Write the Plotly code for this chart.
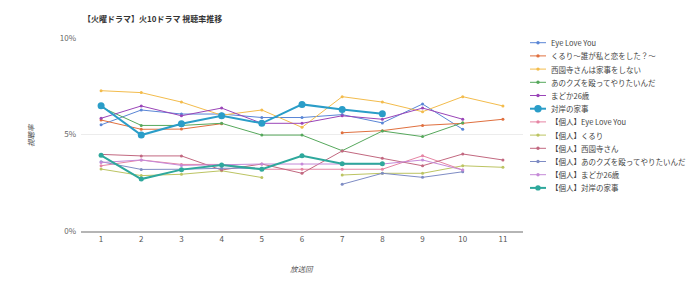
import plotly.graph_objects as go

episodes = list(range(1, 12))
tick_labels = [str(e) for e in episodes]

series_names = [
    "Eye Love You",
    "くるり〜誰が私と恋をした？〜",
    "西園寺さんは家事をしない",
    "あのクズを殴ってやりたいんだ",
    "まどか26歳",
    "対岸の家事",
    "【個人】Eye Love You",
    "【個人】くるり",
    "【個人】西園寺さん",
    "【個人】あのクズを殴ってやりたいんだ",
    "【個人】まどか26歳",
    "【個人】対岸の家事",
]

eye_love_you = [5.5, 6.27, 6.06, 6.06, 5.88, 5.88, 6.03, 5.6, 6.58, 5.27, None]
kururi = [5.75, 5.27, 5.28, 5.56, None, None, 5.09, 5.2, 5.47, 5.58, 5.79]
saionji = [7.27, 7.17, 6.68, 6.0, 6.27, 5.37, 6.96, 6.68, 6.18, 6.96, 6.48]
anokuzu = [6.42, 5.47, 5.47, 5.58, 4.97, 4.97, 4.16, 5.18, 4.89, 5.61, None]
madoka = [5.84, 6.48, 5.97, 6.37, 5.58, 5.58, 5.97, 5.79, 6.37, 5.79, None]
taigan = [6.49, 4.97, 5.56, 5.97, 5.58, 6.56, 6.29, 6.08, None, None, None]

ind_eye_love_you = [3.38, 3.68, 3.45, 3.45, 3.2, 3.2, 3.2, 3.2, 3.9, 3.16, None]
ind_kururi = [3.21, 2.87, 2.94, 3.12, 2.77, None, 2.9, 2.99, 2.99, 3.38, 3.3]
ind_saionji = [3.97, 3.89, 3.89, 3.16, 3.47, 2.99, 4.15, 3.77, 3.38, 3.99, 3.68]
ind_anokuzu = [3.59, 3.19, 3.2, 3.25, 3.25, None, 2.42, 2.99, 2.78, 3.07, None]
ind_madoka = [3.55, 3.68, 3.4, 3.45, 3.47, 3.47, 3.47, 3.47, 3.68, 3.16, None]
ind_taigan = [3.92, 2.69, 3.18, 3.42, 3.2, 3.9, 3.49, 3.49, None, None, None]

series_values = [eye_love_you, kururi, saionji, anokuzu, madoka, taigan,
                 ind_eye_love_you, ind_kururi, ind_saionji, ind_anokuzu, ind_madoka, ind_taigan]

colors = ["#5a86d6", "#e0703f", "#f3bc4c", "#56a85c", "#9a45b8", "#2a9dc8",
          "#e684a3", "#bcc462", "#c26880", "#7e8cc4", "#c68ad8", "#2ea89c"]
line_widths = [1, 1, 1, 1, 1, 2, 1, 1, 1, 1, 1, 2]
marker_sizes = [3, 3, 3, 3, 3, 7, 3, 3, 3, 3, 3, 5]

y_ticks = [0, 5, 10]
y_tick_labels = ["0%", "5%", "10%"]

FONT = "Noto Sans CJK JP, Noto Sans, sans-serif"

fig = go.Figure()
for name, vals, c, lw, ms in zip(series_names, series_values, colors, line_widths, marker_sizes):
    fig.add_trace(go.Scatter(
        x=episodes, y=vals, name=name, mode="lines+markers",
        line=dict(color=c, width=lw), marker=dict(color=c, size=ms),
        connectgaps=False, showlegend=False,
    ))

W, H = 700, 290
L, R, T, B = 81, 177, 38, 59
pw, ph = W - L - R, H - T - B

def px_x(p):
    return (p - L) / pw

def px_y(p):
    return (H - B - p) / ph

# custom compact legend
shapes = []
annotations = []
leg_y0, leg_dy = 42.7, 13.2
for i, (name, c, lw, ms) in enumerate(zip(series_names, colors, line_widths, marker_sizes)):
    yy = px_y(leg_y0 + i * leg_dy)
    shapes.append(dict(type="line", xref="paper", yref="paper",
                       x0=px_x(530), x1=px_x(546), y0=yy, y1=yy,
                       line=dict(color=c, width=lw)))
    r = ms / 2 + 0.2
    shapes.append(dict(type="circle", xref="paper", yref="paper",
                       x0=px_x(538 - r), x1=px_x(538 + r),
                       y0=yy - r / ph, y1=yy + r / ph,
                       fillcolor=c, line=dict(width=0)))
    annotations.append(dict(text=name, xref="paper", yref="paper",
                            x=px_x(549), y=yy, xanchor="left", yanchor="middle",
                            showarrow=False, font=dict(size=7.5, color="#444", family=FONT)))

annotations.append(dict(text="放送回", xref="paper", yref="paper",
                        x=px_x(302), y=px_y(268), xanchor="center", yanchor="middle",
                        showarrow=False, font=dict(size=7.5, color="#555", family=FONT, style="italic")))
annotations.append(dict(text="視聴率", xref="paper", yref="paper",
                        x=px_x(30), y=px_y(135), xanchor="center", yanchor="middle",
                        textangle=-90, showarrow=False,
                        font=dict(size=7.5, color="#555", family=FONT, style="italic")))

fig.update_layout(
    width=W, height=H,
    margin=dict(l=L, r=R, t=T, b=B),
    paper_bgcolor="white", plot_bgcolor="white",
    font=dict(family=FONT, size=8, color="#555"),
    title=dict(text="<b>【火曜ドラマ】火10ドラマ 視聴率推移</b>",
               x=83 / W, xref="container", xanchor="left",
               y=1 - 19 / H, yref="container", yanchor="middle",
               font=dict(size=8, color="#333", family=FONT)),
    shapes=shapes, annotations=annotations,
    showlegend=False,
)
fig.update_xaxes(range=[0.5, 11.5], tickvals=episodes, ticktext=tick_labels,
                 showgrid=False, zeroline=False, showline=True,
                 linecolor="#b5b5b5", linewidth=1.5, ticks="",
                 tickfont=dict(size=8, color="#555"))
fig.update_yaxes(range=[0, 10], tickvals=y_ticks, ticktext=y_tick_labels,
                 showgrid=True, gridcolor="#ececec", gridwidth=1,
                 zeroline=False, showline=False, ticks="",
                 tickfont=dict(size=8, color="#666"), ticklabelstandoff=4)

fig.write_html("out.html")
